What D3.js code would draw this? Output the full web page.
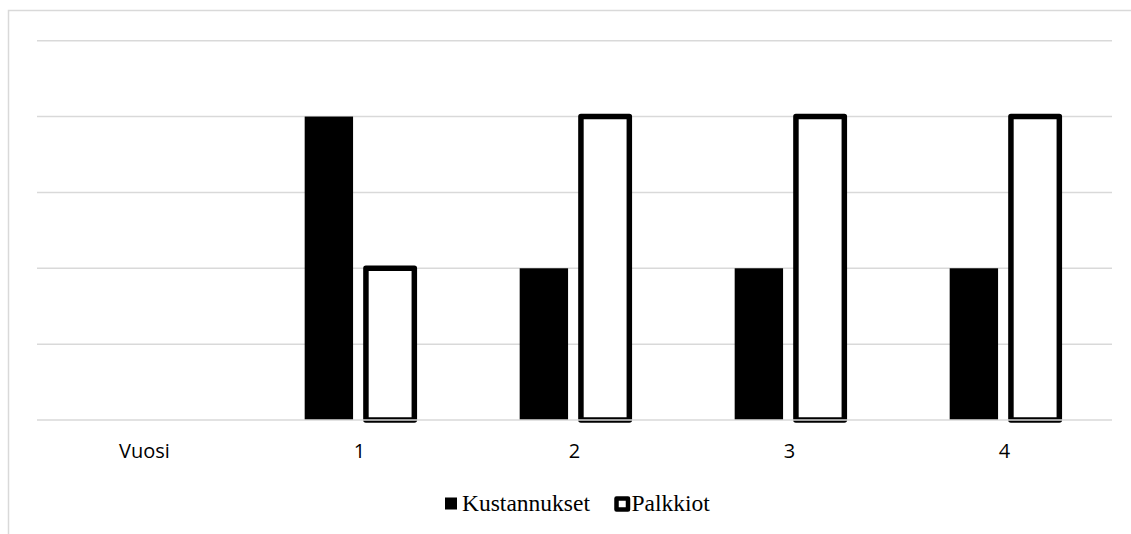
<!DOCTYPE html>
<html>
<head>
<meta charset="utf-8">
<script src="https://cdn.jsdelivr.net/npm/d3@7"></script>
<style>
  html, body { margin: 0; padding: 0; background: #fff; }
  svg { display: block; }
</style>
</head>
<body>
<svg id="chart" width="1131" height="534"></svg>
<script>
// Categories along the x axis
const categories = ["Vuosi", "1", "2", "3", "4"];
// Series names and their values per category
const seriesNames = ["Kustannukset", "Palkkiot"];
const kustannukset = [0, 4, 2, 2, 2];
const palkkiot = [0, 2, 4, 4, 4];
// Gridline values on the value axis
const yTicks = [0, 1, 2, 3, 4, 5];

const svg = d3.select("#chart");
const W = 1131, H = 534;
const plot = { left: 37, right: 1112, top: 40.7, bottom: 420 };
const grid = "#d9d9d9";

// Chart area frame (top and left edges visible)
svg.append("path")
  .attr("d", `M8.5,${H} L8.5,10.5 L${W},10.5`)
  .attr("fill", "none")
  .attr("stroke", grid)
  .attr("stroke-width", 1.5);

const x0 = d3.scaleBand()
  .domain(categories)
  .range([plot.left, plot.right])
  .paddingInner(0.49)
  .paddingOuter(0.245);

const x1 = d3.scaleBand()
  .domain(seriesNames)
  .range([0, x0.bandwidth()])
  .paddingInner(0.21)
  .paddingOuter(0);

const y = d3.scaleLinear().domain([0, 5]).range([plot.bottom, plot.top]);

// Horizontal gridlines (zero line drawn later, above the bars)
const gridG = svg.append("g");
gridG.selectAll("line")
  .data(yTicks.filter(d => d !== 0))
  .join("line")
  .attr("x1", plot.left).attr("x2", plot.right)
  .attr("y1", d => y(d)).attr("y2", d => y(d))
  .attr("stroke", grid)
  .attr("stroke-width", 1.5);

const rows = categories.map((c, i) => ({ c, values: [kustannukset[i], palkkiot[i]] }));

const groups = svg.append("g").selectAll("g")
  .data(rows)
  .join("g")
  .attr("transform", d => `translate(${x0(d.c)},0)`);

// Kustannukset: solid black bars
groups.filter(d => d.values[0] > 0)
  .append("rect")
  .attr("x", x1("Kustannukset"))
  .attr("y", d => y(d.values[0]))
  .attr("width", x1.bandwidth())
  .attr("height", d => y(0) - y(d.values[0]))
  .attr("fill", "#000");

// Palkkiot: white bars with a heavy black outline
groups.filter(d => d.values[1] > 0)
  .append("rect")
  .attr("x", x1("Palkkiot"))
  .attr("y", d => y(d.values[1]))
  .attr("width", x1.bandwidth())
  .attr("height", d => y(0) - y(d.values[1]))
  .attr("fill", "#fff")
  .attr("stroke", "#000")
  .attr("stroke-width", 5.5)
  .attr("stroke-linejoin", "round");

// Zero line
svg.append("line")
  .attr("x1", plot.left).attr("x2", plot.right)
  .attr("y1", y(0)).attr("y2", y(0))
  .attr("stroke", grid)
  .attr("stroke-width", 1.5);

// Category axis labels
const xAxis = d3.axisBottom(x0).tickSize(0).tickPadding(0);
const axisG = svg.append("g")
  .attr("transform", `translate(0,${plot.bottom})`)
  .call(xAxis);
axisG.select(".domain").remove();
axisG.selectAll("text")
  .attr("dy", null)
  .attr("y", 38)
  .attr("fill", "#000")
  .style("font-family", "'Open Sans', sans-serif")
  .style("font-size", "20px");

// Legend
const legend = svg.append("g").style("font-family", "'Liberation Serif', 'Times New Roman', serif")
  .style("font-size", "23.5px").attr("fill", "#000");
legend.append("rect")
  .attr("x", 445).attr("y", 497.5).attr("width", 12).attr("height", 12)
  .attr("fill", "#000");
legend.append("text").attr("x", 462).attr("y", 511).text(seriesNames[0]);
legend.append("rect")
  .attr("x", 616.5).attr("y", 498.5).attr("width", 11.5).attr("height", 11)
  .attr("fill", "#fff").attr("stroke", "#000").attr("stroke-width", 4.5)
  .attr("stroke-linejoin", "round");
legend.append("text").attr("x", 631.5).attr("y", 511).text(seriesNames[1]);
</script>
</body>
</html>
